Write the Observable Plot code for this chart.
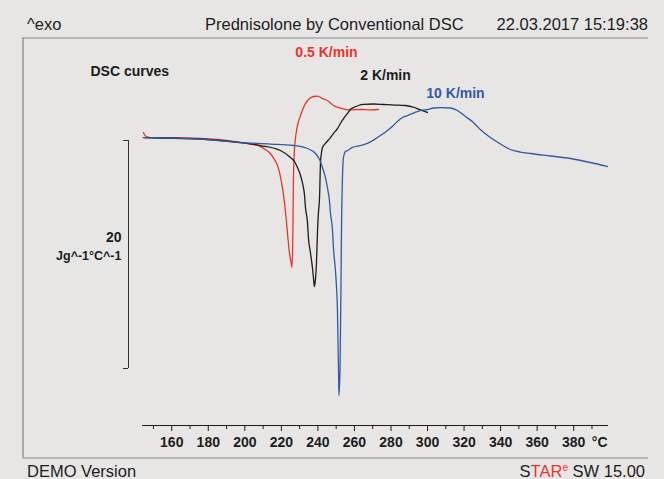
<!DOCTYPE html>
<html>
<head>
<meta charset="utf-8">
<script src="https://cdn.jsdelivr.net/npm/d3@7"></script>
<script src="https://cdn.jsdelivr.net/npm/@observablehq/plot@0.6"></script>
<style>
  html, body { margin: 0; padding: 0; background: #e8e6e5; }
  #wrap { position: relative; width: 664px; height: 479px; overflow: hidden; background: #e8e6e5;
          font-family: "Liberation Sans", Arial, sans-serif; color: #1c1c1c; }
  .t { position: absolute; font-size: 16.5px; line-height: 19px; white-space: nowrap; z-index: 2; }
  #chart { position: absolute; left: 0; top: 0; z-index: 1; }
  .red { color: #e8352b; }
  .sup { font-size: 10px; line-height: 0; vertical-align: 6px; }
</style>
</head>
<body>
<div id="wrap">
  <div id="chart"></div>
  <div class="t" style="left:27px; top:15px;">^exo</div>
  <div class="t" style="left:205px; top:15px;">Prednisolone by Conventional DSC</div>
  <div class="t" style="right:16px; top:15px;">22.03.2017 15:19:38</div>
  <div class="t" style="left:27px; top:462px;">DEMO Version</div>
  <div class="t" style="right:19px; top:462px;">S<span class="red">TAR<span class="sup">e</span></span> SW 15.00</div>
</div>
<script>
// Heating rates and curve colours
const rates = ["0.5 K/min", "2 K/min", "10 K/min"];
const colors = ["#e8352b", "#1c1c1c", "#2f5ba6"];

// 0.5 K/min curve: temperature (°C) and heat flow
const t05 = [144.5,145.6,148.4,159.3,175.7,192.2,203.1,208.6,211.3,214.0,216.2,217.9,219.0,220.1,221.2,222.3,223.3,224.4,225.3,225.8,226.2,226.4,226.6,226.9,227.2,227.7,228.5,229.4,230.5,232.1,234.8,237.6,239.8,242.5,245.2,248.5,252.3,257.8,263.3,268.8,273.1];
const v05 = [0.70,0.39,0.26,0.25,0.18,-0.04,-0.31,-0.53,-0.79,-1.14,-1.67,-2.19,-2.81,-3.68,-4.82,-6.32,-8.07,-9.82,-10.70,-11.14,-9.21,-6.58,-3.51,-1.75,-0.70,0.18,1.05,1.67,2.19,2.89,3.60,3.86,3.90,3.68,3.51,3.07,2.85,2.68,2.72,2.68,2.72];

// 2 K/min curve
const t2 = [144.5,153.9,175.7,197.6,208.6,219.5,225.0,227.2,228.8,230.5,231.6,232.7,233.2,234.3,234.8,235.9,237.0,237.6,238.1,238.7,239.2,239.8,240.3,240.9,241.4,241.9,242.5,244.1,246.9,248.5,250.7,252.3,254.5,256.2,257.8,259.5,262.2,264.9,270.4,275.9,282.4,287.9,291.7,295.0,297.2,299.9];
const v2 = [0.26,0.22,0.13,-0.18,-0.44,-0.88,-1.49,-1.84,-2.37,-3.07,-3.77,-4.82,-5.88,-7.19,-8.51,-9.82,-11.14,-12.11,-12.81,-12.11,-10.79,-7.89,-6.32,-5.00,-2.02,-1.14,-0.61,-0.26,0.26,0.61,1.05,1.49,2.02,2.37,2.72,2.89,3.07,3.16,3.20,3.16,3.11,3.07,2.94,2.76,2.63,2.46];

// 10 K/min curve
const t10 = [144.5,159.3,175.7,197.6,214.0,226.6,234.3,238.7,240.9,242.5,244.1,245.2,246.3,246.9,248.0,248.5,249.6,250.2,250.7,251.0,251.3,251.5,252.1,252.3,252.6,252.9,253.4,254.0,255.1,256.2,258.9,263.3,267.1,272.6,278.1,281.3,283.5,286.3,289.0,292.3,296.1,300.0,303.2,307.1,312.5,316.4,320.7,325.1,328.9,334.4,339.9,345.4,350.8,356.3,367.3,378.2,389.1,398.4];
const v10 = [0.26,0.22,0.13,-0.18,-0.31,-0.44,-0.70,-1.14,-1.67,-2.37,-3.25,-4.12,-5.26,-6.40,-7.89,-9.39,-11.40,-12.89,-14.91,-17.54,-20.18,-22.37,-20.18,-17.54,-13.16,-7.89,-3.51,-1.49,-0.96,-0.88,-0.61,-0.44,-0.26,0.26,0.88,1.32,1.67,2.02,2.19,2.41,2.63,2.72,2.85,2.89,2.85,2.63,2.11,1.58,0.96,0.26,-0.31,-0.79,-1.01,-1.14,-1.36,-1.58,-1.93,-2.28];

// Axis ticks
const majorTicks = [160,180,200,220,240,260,280,300,320,340,360,380];
const minorTicks = [150,170,190,210,230,250,270,290,310,330,350,370,390];
const xDomain = [144, 398.5];

// Scale bar (20 J g^-1 °C^-1)
const scaleBar = [0, -20];
const scaleLabel = "20";
const scaleUnit = "Jg^-1°C^-1";

// Curve labels
const labelT = [244.7, 277.0, 315.3];
const labelV = [7.72, 5.70, 4.12];
const titleLabel = {T: 115.5, v: 6.05, text: "DSC curves"};

// Outer printout box, in data units (left/right °C, top/bottom value)
const boxX = [78.6, 420.9];
const boxY = [8.99, -27.85];

const series = [[t05, v05], [t2, v2], [t10, v10]];
const rows = [];
series.forEach(([ts, vs], i) => ts.forEach((t, j) => rows.push({T: t, v: vs[j], rate: rates[i]})));
const labels = rates.map((r, i) => ({T: labelT[i], v: labelV[i], text: r, color: colors[i]}));

const chart = Plot.plot({
  width: 664,
  height: 479,
  marginLeft: 142,
  marginRight: 57,
  marginTop: 37,
  marginBottom: 54,
  style: {background: "#e8e6e5", fontFamily: "'Liberation Sans', Arial, sans-serif", overflow: "visible", color: "#1c1c1c"},
  x: {domain: xDomain},
  y: {domain: [-20, 0], range: [368, 140]},
  color: {domain: rates, range: colors},
  marks: [
    Plot.frame({fill: "#e8e6e5", stroke: null, insetLeft: -142, insetRight: -57, insetTop: -37, insetBottom: -54}),
    Plot.ruleY([boxY[0], boxY[1]], {x1: boxX[0], x2: boxX[1], stroke: "#858585", strokeWidth: 1.2}),
    Plot.ruleX([boxX[0]], {y1: boxY[0], y2: boxY[1], stroke: "#858585", strokeWidth: 1.2}),
    Plot.frame({anchor: "bottom", stroke: "#1c1c1c"}),
    Plot.axisX({ticks: majorTicks, tickSize: 6, tickPadding: 6, fontSize: 14, fontWeight: "bold", tickFormat: d => d, label: null}),
    Plot.axisX({ticks: minorTicks, tickSize: 4, tickFormat: () => "", label: null}),
    Plot.text(["°C"], {frameAnchor: "bottom-right", dy: 21, dx: 0, textAnchor: "end", fontSize: 14, fontWeight: "bold"}),
    Plot.ruleX([xDomain[0]], {y1: scaleBar[0], y2: scaleBar[1], dx: -14, stroke: "#333"}),
    Plot.axisY({ticks: scaleBar, tickSize: 5, tickFormat: () => "", dx: -14, label: null, stroke: "#333"}),
    Plot.text([scaleLabel], {frameAnchor: "left", y: -8.5, dx: -21, textAnchor: "end", fontSize: 14, fontWeight: "bold"}),
    Plot.text([scaleUnit], {frameAnchor: "left", y: -10.1, dx: -21, textAnchor: "end", fontSize: 12.5, fontWeight: "bold"}),
    Plot.line(rows, {x: "T", y: "v", z: "rate", stroke: "rate", strokeWidth: 1.3, curve: "monotone-x"}),
    Plot.text(labels, {x: "T", y: "v", text: "text", fill: d => d.color, fontSize: 14, fontWeight: "bold"}),
    Plot.text([titleLabel], {x: "T", y: "v", text: "text", textAnchor: "start", fontSize: 14, fontWeight: "bold"})
  ]
});
document.getElementById("chart").appendChild(chart);
</script>
</body>
</html>
